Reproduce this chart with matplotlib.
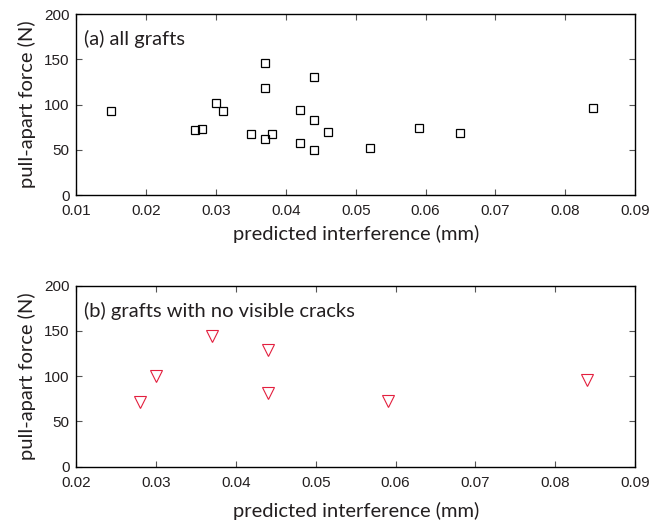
import numpy as np
import matplotlib.pyplot as plt

# (a) all grafts
interference_all = [0.015, 0.027, 0.028, 0.030, 0.031, 0.035, 0.037, 0.037, 0.037,
                    0.038, 0.042, 0.042, 0.044, 0.044, 0.044, 0.046, 0.052, 0.059,
                    0.065, 0.084]
force_all = [92.7, 71.4, 72.9, 101.8, 93.4, 67.4, 146.2, 118.3, 61.9,
             67.0, 94.1, 57.9, 130.8, 82.8, 49.8, 69.2, 52.4, 73.6,
             68.9, 96.7]

# (b) grafts with no visible cracks
interference_ok = [0.028, 0.030, 0.037, 0.044, 0.044, 0.059, 0.084]
force_ok = [71.5, 100.5, 145, 129.5, 81.5, 72.5, 95.5]

label_font = 'Lato'
tick_font = 'Liberation Sans'
txt_col = '#231f20'

fig = plt.figure(figsize=(6.62, 5.22), dpi=100)
ax1 = fig.add_axes([0.1153, 0.6264, 0.8440, 0.3467])
ax2 = fig.add_axes([0.1153, 0.1059, 0.8440, 0.3467])

ax1.plot(interference_all, force_all, 's', ms=5.3, mfc='none', mec='black', mew=0.9)
ax2.plot(interference_ok, force_ok, 'v', ms=8.8, mfc='none', mec='#e3203f', mew=0.8)

ax1.set_xlim(0.01, 0.09)
ax1.set_xticks(np.arange(0.01, 0.0901, 0.01))
ax1.set_xticklabels(['0.01', '0.02', '0.03', '0.04', '0.05', '0.06', '0.07', '0.08', '0.09'])
ax2.set_xlim(0.02, 0.09)
ax2.set_xticks(np.arange(0.02, 0.0901, 0.01))
ax2.set_xticklabels(['0.02', '0.03', '0.04', '0.05', '0.06', '0.07', '0.08', '0.09'])

ax1.text(0.014, 0.86, '(a) all grafts', transform=ax1.transAxes, va='center',
         fontsize=14.5, family=label_font, color=txt_col)
ax2.text(0.014, 0.86, '(b) grafts with no visible cracks', transform=ax2.transAxes,
         va='center', fontsize=14.5, family=label_font, color=txt_col)

for ax, lp in ((ax1, 5), (ax2, 9)):
    ax.set_ylim(0, 200)
    ax.set_yticks([0, 50, 100, 150, 200])
    ax.tick_params(direction='in', top=True, right=True, length=4, width=0.8,
                   color='#555555', labelcolor=txt_col, labelsize=11)
    ax.tick_params(axis='x', pad=6.5)
    ax.tick_params(axis='y', pad=5)
    for lab in ax.get_xticklabels() + ax.get_yticklabels():
        lab.set_family(tick_font)
    for s in ax.spines.values():
        s.set_linewidth(1.0)
    ax.set_xlabel('predicted interference (mm)', fontsize=14.5, family=label_font,
                  color=txt_col, labelpad=lp)
    ax.set_ylabel('pull-apart force (N)', fontsize=14.5, family=label_font,
                  color=txt_col, labelpad=6)

fig.savefig('out.png', dpi=100)
